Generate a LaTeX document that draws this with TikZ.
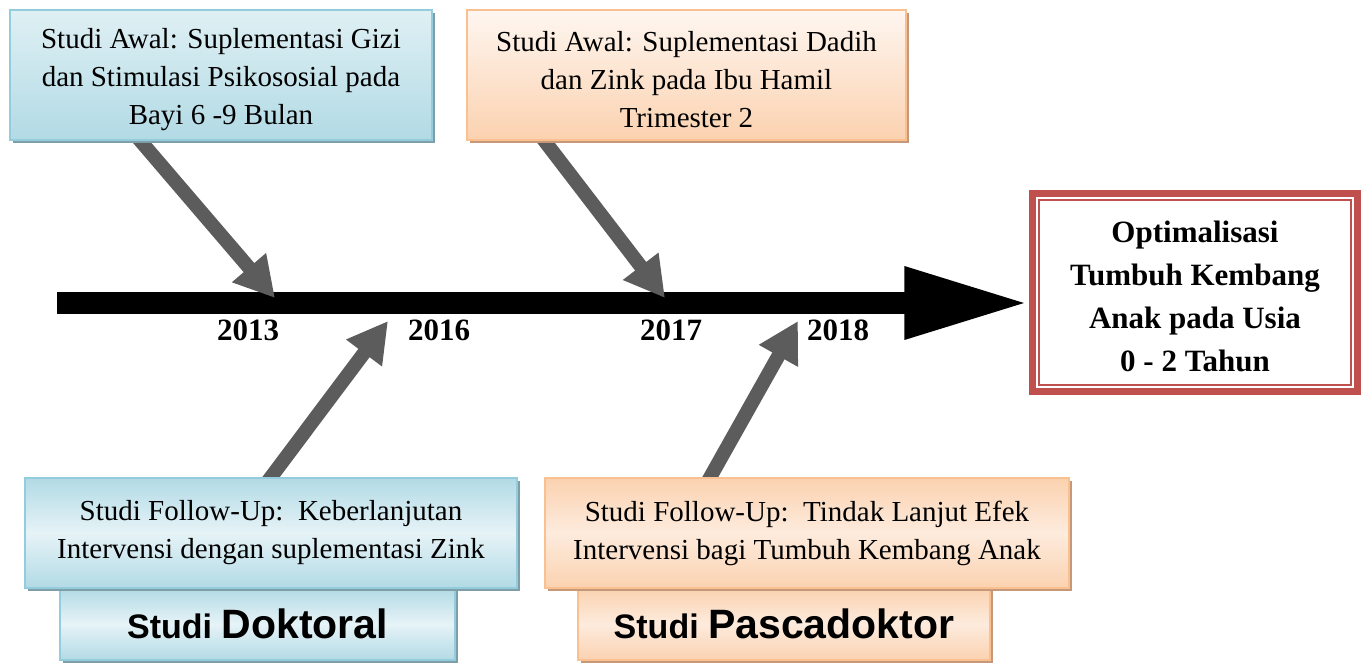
\documentclass[tikz,border=0pt]{standalone}
\usepackage{fontspec}
\setmainfont{Liberation Serif}
\setsansfont{Liberation Sans}
\usetikzlibrary{arrows.meta,shadows,calc}
\pgfdeclarelayer{background}
\pgfsetlayers{background,main}
\definecolor{bborder}{HTML}{93CDDD}
\definecolor{btop}{HTML}{DFF0F4}
\definecolor{bbot}{HTML}{B2DAE5}
\definecolor{bmid}{HTML}{E6F3F7}
\definecolor{bshadow}{HTML}{7F9EA8}
\definecolor{oborder}{HTML}{FAC090}
\definecolor{otop}{HTML}{FEF6F0}
\definecolor{obot}{HTML}{FBD2B0}
\definecolor{omid}{HTML}{FDEBDD}
\definecolor{oshadow}{HTML}{C49878}
\definecolor{garrow}{HTML}{5C5C5C}
\definecolor{tred}{HTML}{C0504D}
\tikzset{
  boxbase/.style={inner sep=0pt, align=center, line width=1.8pt},
  bluebox/.style={boxbase, draw=bborder, drop shadow={shadow xshift=3pt, shadow yshift=-3pt, fill=bshadow, opacity=1}},
  orangebox/.style={boxbase, draw=oborder, drop shadow={shadow xshift=3pt, shadow yshift=-3pt, fill=oshadow, opacity=1}},
  bodytext/.style={inner sep=0pt, align=center, font=\fontsize{29}{38}\selectfont},
  yeartext/.style={inner sep=0pt, font=\bfseries\fontsize{31}{31}\selectfont},
  gar/.style={draw=garrow, line width=14pt, -{Triangle[length=40pt,width=42pt]}},
  titletext/.style={font=\sffamily\bfseries}
}
\begin{document}
\begin{tikzpicture}[x=1pt,y=-1pt]
\useasboundingbox (0,0) rectangle (1366,665);

% top boxes
\node[bluebox, top color=btop, bottom color=bbot, minimum width=422pt, minimum height=130pt] (b1) at (221,75) {};
\node[bodytext] (b1t) at ($(b1.center)+(0,5)$)
  {Studi Awal: Suplementasi Gizi\\dan Stimulasi Psikososial pada\\Bayi 6 -9 Bulan};
\node[orangebox, top color=otop, bottom color=obot, minimum width=439pt, minimum height=130pt] (b2) at (686.5,75) {};
\node[bodytext] (b2t) at ($(b2.center)+(0,5)$)
  {Studi Awal: Suplementasi Dadih\\dan Zink pada Ibu Hamil\\Trimester 2};

% bottom boxes
\node[bluebox, titletext, top color=bbot, bottom color=bbot, middle color=bmid, minimum width=395pt, minimum height=72pt] (b4) at (257.5,624)
  {{\fontsize{34}{34}\selectfont Studi\ }{\fontsize{41}{41}\selectfont Doktoral}};
\node[bluebox, bodytext, top color=bbot, bottom color=bbot, middle color=bmid, minimum width=492pt, minimum height=110pt] (b3) at (271,533)
  {Studi Follow-Up:\ \ Keberlanjutan\\Intervensi dengan suplementasi Zink};
\node[orangebox, titletext, top color=obot, bottom color=obot, middle color=omid, minimum width=412pt, minimum height=72pt] (b6) at (784,624)
  {{\fontsize{34}{34}\selectfont Studi\ }{\fontsize{41}{41}\selectfont Pascadoktor}};
\node[orangebox, bodytext, top color=obot, bottom color=obot, middle color=omid, minimum width=524pt, minimum height=110pt] (b5) at (807,533)
  {Studi Follow-Up:\ \ Tindak Lanjut Efek\\Intervensi bagi Tumbuh Kembang Anak};

% target box
\node[draw=tred, line width=6.5pt, fill=white, inner sep=0pt, minimum width=325pt, minimum height=198pt] (tgt) at (1195,292.5) {};
\draw[tred, line width=2pt] ($(tgt.north west)+(9.5,9.5)$) rectangle ($(tgt.south east)+(-9.5,-9.5)$);
\node[inner sep=0pt, align=center, font=\bfseries\fontsize{31}{43}\selectfont] (tgtt) at ($(tgt.center)+(0,4)$)
  {Optimalisasi\\Tumbuh Kembang\\Anak pada Usia\\0 - 2 Tahun};

% years
\node[yeartext] (y2013) at (248,330) {2013};
\node[yeartext] (y2016) at (439,330) {2016};
\node[yeartext] (y2017) at (671,330) {2017};
\node[yeartext] (y2018) at (838,330) {2018};

% coordinates
\coordinate (tl) at (57,303);
\coordinate (t1) at (275,298);
\coordinate (t2) at (665,298);
\coordinate (t3) at (388,321);
\coordinate (t4) at (798,321);
\coordinate (s1) at ($(b1.south west)!0.31!(b1.south east)$);
\coordinate (s2) at ($(b2.south west)!0.178!(b2.south east)$);
\coordinate (s3) at ($(b3.north west)!0.5!(b3.north east)$);
\coordinate (s4) at ($(b5.north west)!0.316!(b5.north east)$);

\begin{pgfonlayer}{background}
  \draw[line width=22pt, -{Triangle[length=125pt,width=67pt]}] (tl) -- (tgt.west |- tl);
  \draw[gar] ($(s1)!-12pt!(t1)$) -- (t1);
  \draw[gar] ($(s2)!-12pt!(t2)$) -- (t2);
  \draw[gar] ($(s3)!-12pt!(t3)$) -- (t3);
  \draw[gar] ($(s4)!-12pt!(t4)$) -- (t4);
\end{pgfonlayer}
\end{tikzpicture}
\end{document}
